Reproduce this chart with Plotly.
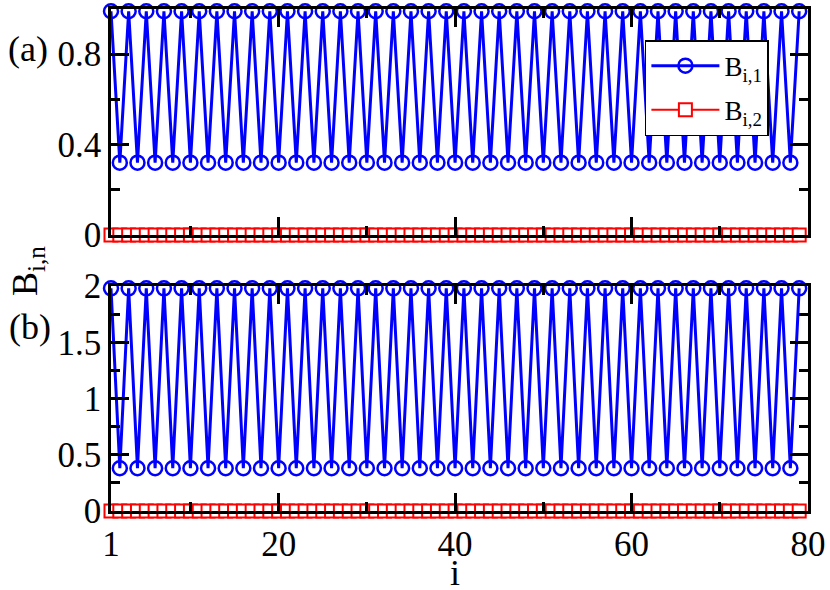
import plotly.graph_objects as go
from plotly.subplots import make_subplots

# ---- data ----
i_vals = list(range(1, 80))

b1_a = [0.99, 0.32, 0.99, 0.32, 0.99, 0.32, 0.99, 0.32, 0.99, 0.32,
        0.99, 0.32, 0.99, 0.32, 0.99, 0.32, 0.99, 0.32, 0.99, 0.32,
        0.99, 0.32, 0.99, 0.32, 0.99, 0.32, 0.99, 0.32, 0.99, 0.32,
        0.99, 0.32, 0.99, 0.32, 0.99, 0.32, 0.99, 0.32, 0.99, 0.32,
        0.99, 0.32, 0.99, 0.32, 0.99, 0.32, 0.99, 0.32, 0.99, 0.32,
        0.99, 0.32, 0.99, 0.32, 0.99, 0.32, 0.99, 0.32, 0.99, 0.32,
        0.99, 0.32, 0.99, 0.32, 0.99, 0.32, 0.99, 0.32, 0.99, 0.32,
        0.99, 0.32, 0.99, 0.32, 0.99, 0.32, 0.99, 0.32, 0.99]
b2_a = [0.0, 0.0, 0.0, 0.0, 0.0, 0.0, 0.0, 0.0, 0.0, 0.0,
        0.0, 0.0, 0.0, 0.0, 0.0, 0.0, 0.0, 0.0, 0.0, 0.0,
        0.0, 0.0, 0.0, 0.0, 0.0, 0.0, 0.0, 0.0, 0.0, 0.0,
        0.0, 0.0, 0.0, 0.0, 0.0, 0.0, 0.0, 0.0, 0.0, 0.0,
        0.0, 0.0, 0.0, 0.0, 0.0, 0.0, 0.0, 0.0, 0.0, 0.0,
        0.0, 0.0, 0.0, 0.0, 0.0, 0.0, 0.0, 0.0, 0.0, 0.0,
        0.0, 0.0, 0.0, 0.0, 0.0, 0.0, 0.0, 0.0, 0.0, 0.0,
        0.0, 0.0, 0.0, 0.0, 0.0, 0.0, 0.0, 0.0, 0.0]
b1_b = [1.98, 0.38, 1.98, 0.38, 1.98, 0.38, 1.98, 0.38, 1.98, 0.38,
        1.98, 0.38, 1.98, 0.38, 1.98, 0.38, 1.98, 0.38, 1.98, 0.38,
        1.98, 0.38, 1.98, 0.38, 1.98, 0.38, 1.98, 0.38, 1.98, 0.38,
        1.98, 0.38, 1.98, 0.38, 1.98, 0.38, 1.98, 0.38, 1.98, 0.38,
        1.98, 0.38, 1.98, 0.38, 1.98, 0.38, 1.98, 0.38, 1.98, 0.38,
        1.98, 0.38, 1.98, 0.38, 1.98, 0.38, 1.98, 0.38, 1.98, 0.38,
        1.98, 0.38, 1.98, 0.38, 1.98, 0.38, 1.98, 0.38, 1.98, 0.38,
        1.98, 0.38, 1.98, 0.38, 1.98, 0.38, 1.98, 0.38, 1.98]
b2_b = [0.0, 0.0, 0.0, 0.0, 0.0, 0.0, 0.0, 0.0, 0.0, 0.0,
        0.0, 0.0, 0.0, 0.0, 0.0, 0.0, 0.0, 0.0, 0.0, 0.0,
        0.0, 0.0, 0.0, 0.0, 0.0, 0.0, 0.0, 0.0, 0.0, 0.0,
        0.0, 0.0, 0.0, 0.0, 0.0, 0.0, 0.0, 0.0, 0.0, 0.0,
        0.0, 0.0, 0.0, 0.0, 0.0, 0.0, 0.0, 0.0, 0.0, 0.0,
        0.0, 0.0, 0.0, 0.0, 0.0, 0.0, 0.0, 0.0, 0.0, 0.0,
        0.0, 0.0, 0.0, 0.0, 0.0, 0.0, 0.0, 0.0, 0.0, 0.0,
        0.0, 0.0, 0.0, 0.0, 0.0, 0.0, 0.0, 0.0, 0.0]

x_tickvals = [1, 20, 40, 60, 80]
x_ticktext = ["1", "20", "40", "60", "80"]
ya_tickvals = [0, 0.4, 0.8]
ya_ticktext = ["0", "0.4", "0.8"]
yb_tickvals = [0, 0.5, 1, 1.5, 2]
yb_ticktext = ["0", "0.5", "1", "1.5", "2"]

name1 = "B<sub>i,1</sub>"
name2 = "B<sub>i,2</sub>"

BLUE = "#0000ff"
RED = "#ff0000"
FONT = "Liberation Serif"

fig = make_subplots(rows=2, cols=1, vertical_spacing=0.1)

blue_marker = dict(symbol="circle-open", size=14, color=BLUE, line=dict(width=2.5, color=BLUE))
red_marker = dict(symbol="square", size=13, color="white", line=dict(width=2, color=RED))

fig.add_trace(go.Scatter(x=i_vals, y=b1_a, mode="lines+markers", name=name1,
                         legendgroup="g1",
                         line=dict(color=BLUE, width=3), marker=blue_marker,
                         cliponaxis=False), row=1, col=1)
fig.add_trace(go.Scatter(x=i_vals, y=b2_a, mode="lines+markers", name=name2,
                         legendgroup="g2",
                         line=dict(color=RED, width=2), marker=red_marker,
                         cliponaxis=False), row=1, col=1)
fig.add_trace(go.Scatter(x=i_vals, y=b1_b, mode="lines+markers", name=name1,
                         legendgroup="g1",
                         line=dict(color=BLUE, width=3), marker=blue_marker,
                         showlegend=False, cliponaxis=False), row=2, col=1)
fig.add_trace(go.Scatter(x=i_vals, y=b2_b, mode="lines+markers", name=name2,
                         legendgroup="g2",
                         line=dict(color=RED, width=2), marker=red_marker,
                         showlegend=False, cliponaxis=False), row=2, col=1)

axis_common = dict(showgrid=False, zeroline=False, showline=True, linecolor="black",
                   linewidth=2.5, mirror="allticks", ticks="inside", ticklen=18,
                   tickwidth=2.5, tickcolor="black", automargin=False,
                   tickfont=dict(family=FONT, size=35, color="black"),
                   minor=dict(ticks="inside", ticklen=9, tickwidth=2.5, tickcolor="black"))

fig.update_xaxes(**axis_common, range=[1, 80], tickmode="array",
                 tickvals=x_tickvals, ticktext=x_ticktext)
fig.update_xaxes(minor_tickvals=[10, 30, 50, 70])
fig.update_xaxes(showticklabels=False, row=1, col=1)
fig.update_xaxes(domain=[0, 1])

fig.update_yaxes(**axis_common)
fig.update_yaxes(range=[0, 1.0], tickmode="array", tickvals=ya_tickvals, ticktext=ya_ticktext,
                 minor_tickvals=[0.2, 0.6], domain=[0.5498, 1.0], row=1, col=1)
fig.update_yaxes(range=[0, 2.0], tickmode="array", tickvals=yb_tickvals, ticktext=yb_ticktext,
                 minor_tickvals=[0.25, 0.75, 1.25, 1.75], domain=[0.0, 0.448], row=2, col=1)

fig.update_layout(
    template="none",
    width=830, height=590,
    margin=dict(l=111, r=22, t=9, b=79, pad=0),
    paper_bgcolor="white", plot_bgcolor="white",
    font=dict(family=FONT, color="black"),
    showlegend=True,
    legend=dict(x=0.766, y=0.938, xanchor="left", yanchor="top",
                bgcolor="white", bordercolor="black", borderwidth=1.5,
                font=dict(family=FONT, size=27, color="black"),
                traceorder="grouped", tracegroupgap=6, itemwidth=68),
    annotations=[
        dict(text="(a)", x=-0.119, y=0.920, xref="paper", yref="paper",
             showarrow=False, xanchor="center", yanchor="middle",
             font=dict(family=FONT, size=36, color="black")),
        dict(text="(b)", x=-0.1162, y=0.3665, xref="paper", yref="paper",
             showarrow=False, xanchor="center", yanchor="middle",
             font=dict(family=FONT, size=36, color="black")),
        dict(text="B<sub>i,n</sub>", x=-0.1205, y=0.478, xref="paper", yref="paper",
             showarrow=False, xanchor="center", yanchor="middle", textangle=-90,
             font=dict(family=FONT, size=36, color="black")),
        dict(text="i", x=0.4935, y=-0.1235, xref="paper", yref="paper",
             showarrow=False, xanchor="center", yanchor="middle",
             font=dict(family=FONT, size=36, color="black")),
    ],
)

fig.write_html("out.html", config={"displayModeBar": False},
               post_script="document.body.style.margin='0';document.body.style.overflow='hidden';")
